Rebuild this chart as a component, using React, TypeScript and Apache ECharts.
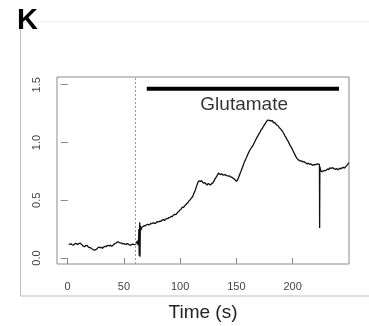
import React, { useEffect, useRef } from "react";
import * as echarts from "echarts";

// Time (s) of each sample of the trace
const times: number[] = [
  1, 2, 3, 4, 5, 6, 7, 8, 9, 10,
  11, 12, 13, 14, 15, 16, 17, 18, 19, 20,
  21, 22, 23, 24, 25, 26, 27, 28, 29, 30,
  31, 32, 33, 34, 35, 36, 37, 38, 39, 40,
  41, 42, 43, 44, 45, 46, 47, 48, 49, 50,
  51, 52, 53, 54, 55, 56, 57, 58, 59, 60,
  61, 62, 62.5, 63, 63.3, 63.6, 64, 64.3, 64.6, 65,
  66, 67, 68, 69, 70, 71, 72, 73, 74, 75,
  76, 77, 78, 79, 80, 81, 82, 83, 84, 85,
  86, 87, 88, 89, 90, 91, 92, 93, 94, 95,
  96, 97, 98, 99, 100, 101, 102, 103, 104, 105,
  106, 107, 108, 109, 110, 111, 112, 113, 114, 115,
  116, 117, 118, 119, 120, 121, 122, 123, 124, 125,
  126, 127, 128, 129, 130, 131, 132, 133, 134, 135,
  136, 137, 138, 139, 140, 141, 142, 143, 144, 145,
  146, 147, 148, 149, 150, 151, 152, 153, 154, 155,
  156, 157, 158, 159, 160, 161, 162, 163, 164, 165,
  166, 167, 168, 169, 170, 171, 172, 173, 174, 175,
  176, 177, 178, 179, 180, 181, 182, 183, 184, 185,
  186, 187, 188, 189, 190, 191, 192, 193, 194, 195,
  196, 197, 198, 199, 200, 201, 202, 203, 204, 205,
  206, 207, 208, 209, 210, 211, 212, 213, 214, 215,
  216, 217, 218, 219, 220, 221, 222, 223, 223.8, 224, 224.2,
  225, 226, 227, 228, 229, 230, 231, 232, 233, 234, 235,
  236, 237, 238, 239, 240, 241, 242, 243, 244, 245,
  246, 247, 248, 249, 250,
];
// Response (ratio) of each sample
const values: number[] = [
  0.12, 0.118, 0.122, 0.115, 0.11, 0.12, 0.128, 0.122, 0.118, 0.125,
  0.13, 0.12, 0.112, 0.1, 0.098, 0.108, 0.11, 0.1, 0.09, 0.092,
  0.082, 0.078, 0.07, 0.068, 0.072, 0.08, 0.09, 0.095, 0.088, 0.092,
  0.085, 0.095, 0.1, 0.098, 0.105, 0.11, 0.105, 0.112, 0.1, 0.108,
  0.118, 0.125, 0.13, 0.138, 0.14, 0.132, 0.128, 0.13, 0.122, 0.125,
  0.12, 0.118, 0.125, 0.12, 0.112, 0.11, 0.118, 0.12, 0.115, 0.118,
  0.13, 0.148, 0.11, 0.16, 0.25, 0.02, 0.31, 0.01, 0.28, 0.24,
  0.265, 0.272, 0.28, 0.278, 0.288, 0.292, 0.285, 0.29, 0.3, 0.298,
  0.305, 0.302, 0.298, 0.31, 0.315, 0.312, 0.32, 0.318, 0.33, 0.332,
  0.325, 0.335, 0.342, 0.34, 0.35, 0.352, 0.36, 0.358, 0.372, 0.378,
  0.375, 0.385, 0.398, 0.405, 0.418, 0.425, 0.44, 0.438, 0.452, 0.46,
  0.472, 0.48, 0.498, 0.505, 0.518, 0.53, 0.555, 0.575, 0.605, 0.635,
  0.66, 0.668, 0.662, 0.67, 0.655, 0.648, 0.652, 0.64, 0.632, 0.645,
  0.638, 0.632, 0.645, 0.648, 0.665, 0.685, 0.7, 0.715, 0.735, 0.728,
  0.722, 0.73, 0.718, 0.72, 0.722, 0.715, 0.712, 0.708, 0.71, 0.702,
  0.698, 0.69, 0.685, 0.675, 0.665, 0.675, 0.7, 0.725, 0.75, 0.775,
  0.8, 0.828, 0.85, 0.87, 0.895, 0.915, 0.935, 0.95, 0.965, 0.98,
  1.0, 1.02, 1.04, 1.055, 1.075, 1.09, 1.11, 1.12, 1.14, 1.155,
  1.17, 1.185, 1.195, 1.19, 1.192, 1.185, 1.19, 1.17, 1.175, 1.16,
  1.15, 1.145, 1.13, 1.12, 1.11, 1.095, 1.08, 1.06, 1.045, 1.025,
  1.01, 0.99, 0.97, 0.955, 0.935, 0.915, 0.895, 0.875, 0.86, 0.85,
  0.845, 0.838, 0.842, 0.832, 0.835, 0.828, 0.82, 0.815, 0.822, 0.81,
  0.815, 0.808, 0.802, 0.81, 0.805, 0.812, 0.815, 0.81, 0.812, 0.26, 0.79,
  0.755, 0.748, 0.752, 0.758, 0.755, 0.762, 0.77, 0.765, 0.78, 0.775, 0.782,
  0.778, 0.772, 0.768, 0.775, 0.762, 0.77, 0.778, 0.772, 0.78, 0.785,
  0.778, 0.79, 0.8, 0.812, 0.825,
];

const xTicks: number[] = [0, 50, 100, 150, 200];
const yTicks: number[] = [0, 0.5, 1.0, 1.5];
const stimulusOnset = 60;
const glutamateBarX: number[] = [70.3, 241.2];
const glutamateBarY = 1.465;
const glutamateLabel = "Glutamate";
const glutamateLabelPos: number[] = [156.9, 1.34];

export default function App() {
  const ref = useRef<HTMLDivElement>(null);
  useEffect(() => {
    if (!ref.current) return;
    const chart = echarts.init(ref.current, undefined, { renderer: "svg" });
    const font = "Liberation Sans, Arial, Helvetica, sans-serif";
    chart.setOption({
      animation: false,
      textStyle: { fontFamily: font },
      grid: {
        left: 57,
        right: 20,
        top: 77,
        bottom: 62,
        show: true,
        borderColor: "#8a8a8a",
        borderWidth: 1,
        backgroundColor: "transparent",
      },
      xAxis: {
        type: "value",
        min: -9.5,
        max: 250.1,
        name: "Time (s)",
        nameLocation: "middle",
        nameGap: 38,
        nameTextStyle: { fontSize: 19, color: "#222", fontFamily: font },
        axisLine: { show: false },
        splitLine: { show: false },
        axisTick: {
          show: true,
          customValues: xTicks,
          length: 6,
          lineStyle: { color: "#888" },
        },
        axisLabel: {
          customValues: xTicks,
          margin: 16,
          fontSize: 11,
          color: "#444",
          fontFamily: font,
        },
      },
      yAxis: {
        type: "value",
        min: -0.052,
        max: 1.567,
        axisLine: { show: false },
        splitLine: { show: false },
        axisTick: {
          show: true,
          customValues: yTicks,
          length: 7,
          lineStyle: { color: "#888" },
        },
        axisLabel: {
          customValues: yTicks,
          rotate: 90,
          margin: 16,
          fontSize: 11,
          color: "#444",
          fontFamily: font,
          formatter: (v: number) => v.toFixed(1),
        },
      },
      graphic: [
        {
          type: "line",
          shape: { x1: 20.5, y1: 22, x2: 20.5, y2: 296 },
          style: { stroke: "#bdbdbd", lineWidth: 1 },
          silent: true,
        },
        {
          type: "line",
          shape: { x1: 20.5, y1: 296, x2: 369, y2: 296 },
          style: { stroke: "#bdbdbd", lineWidth: 1 },
          silent: true,
        },
        {
          type: "line",
          shape: { x1: 20.5, y1: 22, x2: 369, y2: 22 },
          style: { stroke: "#ececec", lineWidth: 1 },
          silent: true,
        },
        {
          type: "text",
          left: 17,
          top: 4,
          style: {
            text: "K",
            font: "bold 29px Liberation Sans, Arial, sans-serif",
            fill: "#000",
          },
        },
      ],
      series: [
        {
          type: "line",
          data: times.map((t, i) => [t, values[i]]),
          showSymbol: false,
          symbol: "none",
          lineStyle: { color: "#111", width: 1.3 },
          z: 3,
          markLine: {
            silent: true,
            symbol: ["none", "none"],
            label: { show: false },
            lineStyle: { color: "#999", type: [2, 2], width: 1 },
            data: [{ xAxis: stimulusOnset }],
          },
        },
        {
          type: "line",
          data: glutamateBarX.map((x) => [x, glutamateBarY]),
          showSymbol: false,
          symbol: "none",
          lineStyle: { color: "#000", width: 4, cap: "butt" },
        },
        {
          type: "scatter",
          data: [glutamateLabelPos],
          symbolSize: 1,
          itemStyle: { color: "transparent" },
          label: {
            show: true,
            position: "inside",
            formatter: glutamateLabel,
            fontSize: 19,
            color: "#000",
            textBorderWidth: 0,
            fontFamily: font,
          },
        },
      ],
    });
    return () => chart.dispose();
  }, []);
  return (
    <div
      ref={ref}
      style={{ position: "fixed", left: 0, top: 0, width: 369, height: 326 }}
    />
  );
}
